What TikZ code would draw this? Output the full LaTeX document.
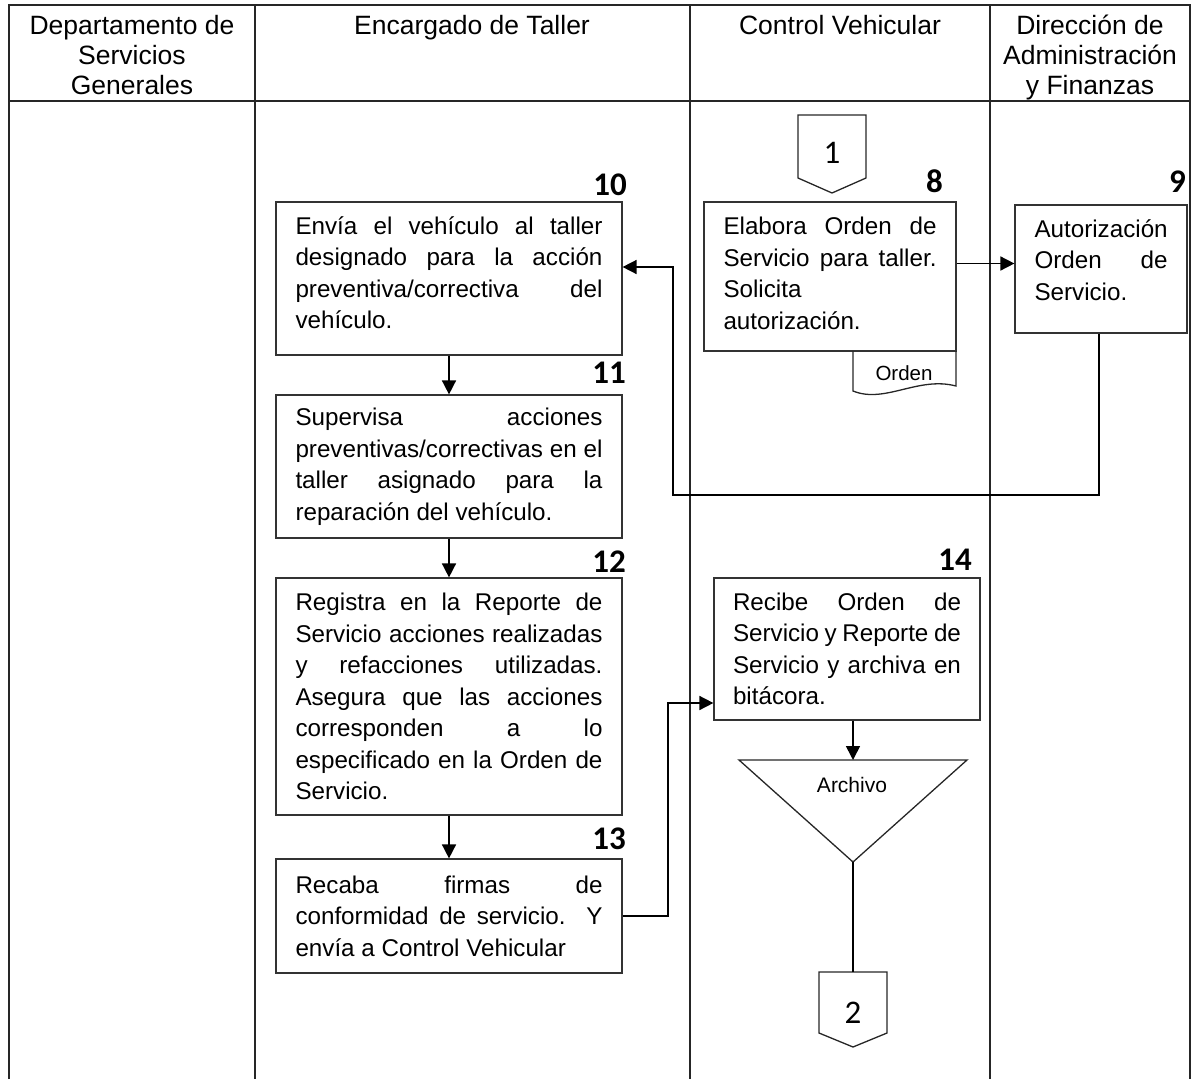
\documentclass[tikz,border=0pt]{standalone}
\usepackage{fontspec}
\setmainfont{Liberation Sans}
\newfontfamily\numfont{Carlito}
\usetikzlibrary{arrows.meta}

\begin{document}
\begin{tikzpicture}[x=1pt,y=-1pt,
  lane/.style={line width=1.6pt, draw=black!85},
  headtxt/.style={anchor=north, align=center, inner sep=0pt,
    font=\fontsize{26.5}{30}\selectfont},
  stepbox/.style={draw=black!80, line width=1.2pt, inner xsep=0pt, inner ysep=0pt,
    align=justify, font=\fontsize{24.2}{31.5}\selectfont},
  stepnum/.style={anchor=base east, inner sep=0pt,
    font=\numfont\bfseries\fontsize{33}{33}\selectfont},
  flow/.style={line width=1.6pt, -{Triangle[length=14pt,width=14pt]}},
  link/.style={line width=1.6pt},
  shapeline/.style={line width=1.3pt, draw=black!85},
  smalltxt/.style={inner sep=0pt, font=\fontsize{20.5}{24}\selectfont},
  pagenum/.style={inner sep=0pt, font=\numfont\fontsize{33}{33}\selectfont}
]
\useasboundingbox (0,0) rectangle (1194,1079);

% swimlane table
\draw[lane] (9,1079) -- (9,5) -- (1190,5) -- (1190,1079);
\draw[lane] (9,101) -- (1190,101);
\foreach \xx in {255,690,990} \draw[lane] (\xx,5) -- (\xx,1079);

% lane headings
\node[headtxt] (h1) at (132,15) {Departamento de\\Servicios\\Generales};
\node[headtxt] (h2) at (472,15) {Encargado de Taller};
\node[headtxt] (h3) at (840,15) {Control Vehicular};
\node[headtxt] (h4) at (1090,15) {Dirección de\\Administración\\y Finanzas};

% off-page connector 1
\draw[shapeline] (798,115) -- (866,115) -- (866,178) -- (832,193) -- (798,178) -- cycle;
\node[pagenum] (c1) at (832,153) {1};

% activity boxes (a trailing kern lifts the text inside the box)
\node[stepbox, text width=213pt, minimum width=252pt, minimum height=149pt]
  (b8) at (830,276.5) {Elabora Orden de\linebreak Servicio para taller.\linebreak Solicita\linebreak autorización.\par\kern6pt};
\node[stepbox, text width=133pt, minimum width=172pt, minimum height=128pt]
  (b9) at (1101,269) {Autorización\linebreak Orden de\linebreak Servicio.\par\kern18pt};
\node[stepbox, text width=307pt, minimum width=346pt, minimum height=153pt]
  (b10) at (449,278.5) {Envía el vehículo al taller\linebreak designado para la acción\linebreak preventiva/correctiva del\linebreak vehículo.\par\kern12pt};
\node[stepbox, text width=307pt, minimum width=346pt, minimum height=143pt]
  (b11) at (449,466.5) {Supervisa acciones\linebreak preventivas/correctivas en el\linebreak taller asignado para la\linebreak reparación del vehículo.};
\node[stepbox, text width=307pt, minimum width=346pt, minimum height=237pt]
  (b12) at (449,696.5) {Registra en la Reporte de\linebreak Servicio acciones realizadas\linebreak y refacciones utilizadas.\linebreak Asegura que las acciones\linebreak corresponden a lo\linebreak especificado en la Orden de\linebreak Servicio.};
\node[stepbox, text width=307pt, minimum width=346pt, minimum height=114pt]
  (b13) at (449,916) {Recaba firmas de\linebreak conformidad de servicio. Y\linebreak envía a Control Vehicular};
\node[stepbox, text width=228pt, minimum width=266pt, minimum height=142pt]
  (b14) at (847,649) {Recibe Orden de\linebreak Servicio y Reporte de\linebreak Servicio y archiva en\linebreak bitácora.};

% step numbers
\node[stepnum] (n8) at (943,192) {8};
\node[stepnum] (n9) at (1186,192) {9};
\node[stepnum] (n10) at (627,195) {10};
\node[stepnum] (n11) at (626,383) {11};
\node[stepnum] (n12) at (626,572) {12};
\node[stepnum] (n13) at (626,849) {13};
\node[stepnum] (n14) at (972,570) {14};

% document attached to step 8
\draw[shapeline] (853,351) -- (853,391) .. controls (885,404) and (918,376) .. (956,386) -- (956,351);
\node[smalltxt] (doc) at (904,373) {Orden};

% archive (inverted triangle)
\coordinate (archTop) at (853,760);
\coordinate (archApex) at (853,862);
\draw[shapeline] (739,760) -- (967,760) -- (archApex) -- cycle;
\node[smalltxt, font=\fontsize{21}{24}\selectfont] (arch) at (852,785) {Archivo};

% off-page connector 2
\coordinate (c2top) at (853,972);
\draw[shapeline] (819,972) -- (887,972) -- (887,1033) -- (853,1047) -- (819,1033) -- cycle;
\node[pagenum] (c2) at (853,1013) {2};

% connectors
\draw[flow] ([yshift=13pt]b8.east) -- ([yshift=13pt]b8.east -| b9.west);
\coordinate (r1) at (673,495);
\draw[flow] (b9.south -| 1099,0) |- (r1) |- ([yshift=11.5pt]b10.east);
\draw[flow] (b10.south) -- (b11.north);
\draw[flow] (b11.south) -- (b12.north);
\draw[flow] (b12.south) -- (b13.north);
\coordinate (j2) at (668,703);
\draw[flow] (b13.east) -| (j2) -- (j2 -| b14.west);
\draw[flow] (b14.south -| archTop) -- (archTop);
\draw[link] (archApex) -- (c2top);
\end{tikzpicture}
\end{document}
